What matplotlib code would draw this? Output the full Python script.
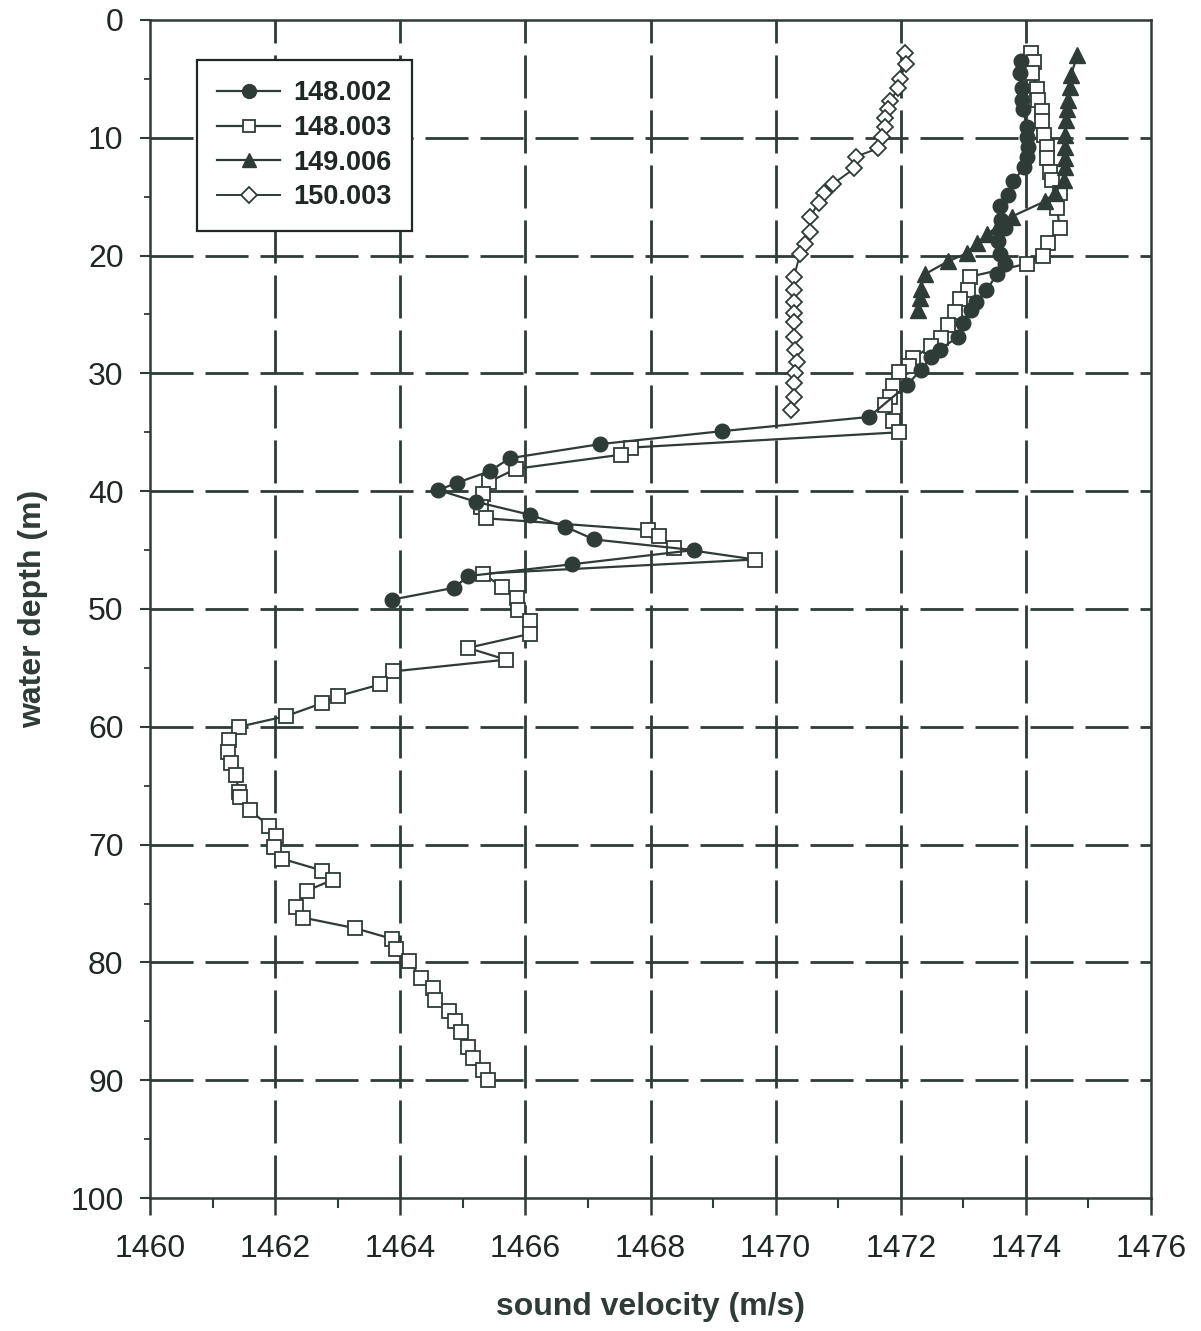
import matplotlib.pyplot as plt
import numpy as np

plt.rcParams['font.family'] = ['Liberation Sans', 'DejaVu Sans']

ink = '#2e3b37'

# 148.002 - filled circles
depth_a = [3.5, 4.5, 5.8, 6.8, 7.6, 9.1, 9.9, 10.8, 11.6, 12.5, 13.7, 14.9, 15.8, 17.0, 17.7,
           18.8, 19.9, 20.7, 21.6, 22.9, 23.9, 24.6, 25.7, 26.9, 28.0, 28.6, 29.7, 31.0, 33.7,
           34.9, 36.0, 37.2, 38.3, 39.3, 39.9, 40.9, 42.0, 43.0, 44.1, 45.0, 46.2, 47.2, 48.2, 49.2]
vel_a = [1473.92, 1473.90, 1473.93, 1473.94, 1473.96, 1474.01, 1474.02, 1474.03, 1474.02, 1473.97,
         1473.80, 1473.72, 1473.58, 1473.60, 1473.66, 1473.56, 1473.58, 1473.66, 1473.54, 1473.37,
         1473.21, 1473.12, 1473.00, 1472.91, 1472.62, 1472.49, 1472.32, 1472.10, 1471.49,
         1469.15, 1467.20, 1465.75, 1465.43, 1464.90, 1464.61, 1465.21, 1466.07, 1466.63, 1467.10,
         1468.69, 1466.75, 1465.09, 1464.86, 1463.87]

# 148.003 - open squares
depth_b = [2.8, 3.6, 4.5, 5.9, 6.8, 7.7, 8.6, 9.8, 10.8, 11.7, 12.9, 13.6, 14.7, 16.0, 17.7, 18.9,
           20.0, 20.7, 21.8, 22.9, 23.7, 24.8, 25.9, 27.0, 27.7, 28.7, 29.4, 29.9, 31.1, 32.0, 32.7,
           34.0, 35.0, 36.3, 36.9, 38.1, 39.2, 40.2, 41.3, 42.3, 43.3, 43.8, 44.8, 45.8, 47.0, 48.1,
           49.1, 50.1, 51.0, 52.1, 53.3, 54.3, 55.3, 56.4, 57.4, 58.0, 59.1, 60.0, 61.1, 62.1, 63.1,
           64.1, 65.5, 66.0, 67.1, 68.4, 69.3, 70.2, 71.2, 72.2, 73.0, 73.9, 75.3, 76.2, 77.1, 78.0,
           78.9, 79.9, 81.3, 82.2, 83.2, 84.1, 85.0, 85.9, 87.2, 88.1, 89.1, 90.0]
vel_b = [1474.08, 1474.13, 1474.10, 1474.18, 1474.20, 1474.25, 1474.26, 1474.29, 1474.34, 1474.34,
         1474.38, 1474.41, 1474.54, 1474.50, 1474.54, 1474.35, 1474.27, 1474.01, 1473.10, 1473.08,
         1472.94, 1472.86, 1472.76, 1472.64, 1472.48, 1472.20, 1472.13, 1471.97, 1471.88, 1471.83,
         1471.75, 1471.88, 1471.97, 1467.68, 1467.53, 1465.85, 1465.42, 1465.32, 1465.29, 1465.37,
         1467.96, 1468.13, 1468.37, 1469.67, 1465.32, 1465.62, 1465.86, 1465.88, 1466.07, 1466.08,
         1465.08, 1465.69, 1463.88, 1463.68, 1463.00, 1462.75, 1462.17, 1461.42, 1461.26, 1461.24,
         1461.30, 1461.37, 1461.42, 1461.44, 1461.60, 1461.90, 1462.02, 1461.98, 1462.11, 1462.75,
         1462.92, 1462.51, 1462.34, 1462.45, 1463.28, 1463.87, 1463.93, 1464.14, 1464.33, 1464.52,
         1464.56, 1464.78, 1464.88, 1464.97, 1465.08, 1465.16, 1465.33, 1465.41]

# 149.006 - filled triangles
depth_c = [3.0, 4.7, 5.7, 6.8, 7.6, 8.5, 9.8, 10.8, 11.7, 12.5, 13.6, 14.7, 15.4, 16.7, 17.5,
           18.2, 18.9, 19.8, 20.5, 21.6, 22.8, 23.6, 24.6]
vel_c = [1474.82, 1474.72, 1474.70, 1474.67, 1474.66, 1474.64, 1474.63, 1474.63, 1474.62, 1474.62,
         1474.61, 1474.46, 1474.30, 1473.77, 1473.55, 1473.38, 1473.22, 1473.06, 1472.75, 1472.38,
         1472.32, 1472.30, 1472.27]

# 150.003 - open diamonds
depth_d = [2.8, 3.7, 5.0, 5.8, 6.9, 7.6, 8.3, 9.1, 9.9, 10.9, 11.6, 12.6, 13.9, 14.7, 15.5, 16.7,
           18.0, 19.0, 19.9, 21.8, 22.9, 23.9, 24.9, 25.6, 26.9, 28.0, 29.0, 30.0, 30.8, 32.0, 33.1]
vel_d = [1472.06, 1472.08, 1471.99, 1471.96, 1471.83, 1471.80, 1471.75, 1471.74, 1471.70, 1471.64,
         1471.28, 1471.26, 1470.92, 1470.77, 1470.69, 1470.55, 1470.55, 1470.47, 1470.39, 1470.29,
         1470.29, 1470.29, 1470.29, 1470.29, 1470.29, 1470.31, 1470.34, 1470.31, 1470.29, 1470.29,
         1470.25]

labels = ['148.002', '148.003', '149.006', '150.003']

fig = plt.figure(figsize=(12.01, 13.31), dpi=100)
ax = fig.add_axes([0.1249, 0.0999, 0.8335, 0.8851])

ax.plot(vel_a, depth_a, '-o', color=ink, lw=1.6, ms=10.5, mfc=ink, mec=ink, label=labels[0], zorder=4)
ax.plot(vel_b, depth_b, '-s', color=ink, lw=1.6, ms=9.5, mfc='white', mec=ink, mew=1.3, label=labels[1], zorder=3)
ax.plot(vel_c, depth_c, '-^', color=ink, lw=1.6, ms=11, mfc=ink, mec=ink, label=labels[2], zorder=5)
ax.plot(vel_d, depth_d, '-D', color=ink, lw=1.4, ms=8.5, mfc='white', mec=ink, mew=1.3, label=labels[3], zorder=3)

ax.set_xlim(1460, 1476)
ax.set_ylim(100, 0)
ax.set_xticks(np.arange(1460, 1477, 2))
ax.set_xticks(np.arange(1461, 1476, 2), minor=True)
ax.set_yticks(np.arange(0, 101, 10))
ax.set_yticks(np.arange(5, 100, 10), minor=True)

# dashed grid, long dashes
for v in range(1462, 1476, 2):
    ax.axvline(v, color=ink, lw=2, dashes=(15.5, 4.3), zorder=1)
for d in range(10, 100, 10):
    ax.axhline(d, color=ink, lw=2, dashes=(15.5, 4.3), zorder=1)

for s in ax.spines.values():
    s.set_color(ink)
    s.set_linewidth(1.8)

ax.tick_params(axis='x', which='major', length=12, width=1.8, color=ink, pad=14, labelsize=23)
ax.tick_params(axis='x', which='minor', length=7, width=1.5, color=ink)
ax.tick_params(axis='y', which='major', length=7, width=1.5, color=ink, pad=12, labelsize=23)
ax.tick_params(axis='y', which='minor', length=4, width=1.3, color=ink)
for t in ax.get_xticklabels() + ax.get_yticklabels():
    t.set_color('#1f2824')

ax.set_xlabel('sound velocity (m/s)', fontsize=23, fontweight='bold', color=ink, labelpad=20)
ax.set_ylabel('water depth (m)', fontsize=23, fontweight='bold', color=ink, labelpad=16)

leg = ax.legend(loc='upper left', bbox_to_anchor=(0.047, 0.966), borderaxespad=0, fancybox=False,
                framealpha=1, edgecolor='#1f2824', fontsize=19.5, handlelength=2.3, markerscale=0.95,
                labelspacing=0.32, borderpad=0.75, handletextpad=0.5)
leg.get_frame().set_linewidth(1.6)
for t in leg.get_texts():
    t.set_fontweight('bold')
    t.set_color('#1f2824')

fig.savefig('out.png', dpi=100)
